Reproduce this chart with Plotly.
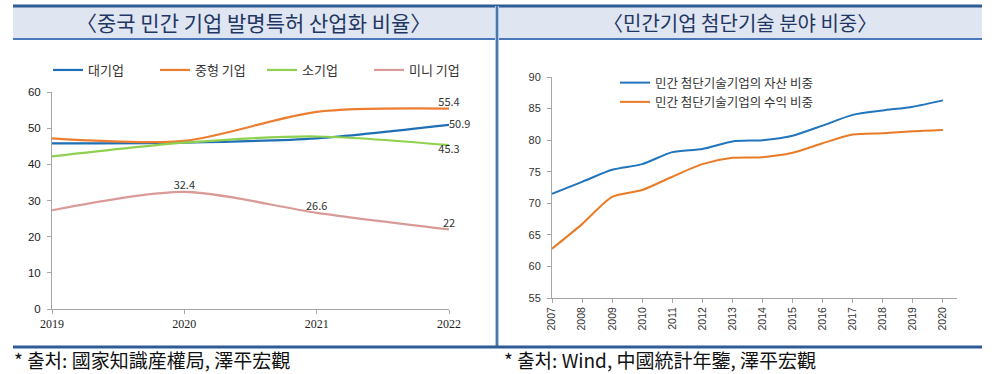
import plotly.graph_objects as go

W, H = 994, 374

# ---------------- data ----------------
years_left = [2019, 2020, 2021, 2022]
large = [45.8, 46.0, 47.2, 50.9]
medium = [47.2, 46.5, 54.5, 55.4]
small = [42.2, 46.0, 47.7, 45.3]
mini = [27.3, 32.4, 26.6, 22.0]
left_names = ["대기업", "중형 기업", "소기업", "미니 기업"]

years_right = list(range(2007, 2021))
asset_share = [71.5, 73.4, 75.3, 76.2, 78.1, 78.6, 79.8, 80.0, 80.7, 82.3, 84.0, 84.7, 85.3, 86.3]
revenue_share = [62.8, 66.7, 71.0, 72.1, 74.2, 76.2, 77.2, 77.3, 78.0, 79.5, 80.9, 81.1, 81.4, 81.6]
right_names = ["민간 첨단기술기업의 자산 비중", "민간 첨단기술기업의 수익 비중"]

left_title = "〈중국 민간 기업 발명특허 산업화 비율〉"
right_title = "〈민간기업 첨단기술 분야 비중〉"
left_source = "* 출처: 國家知識産權局, 澤平宏觀"
right_source = "* 출처: Wind, 中國統計年鑒, 澤平宏觀"


def px(x):
    return x / W


def py(y):
    return 1 - y / H


KR = "Noto Sans CJK KR"
BLUE = "#1f6fb4"
ORANGE = "#ec7d31"
GREEN = "#8fd14f"
PINK = "#d99a98"

fig = go.Figure()


def lbl(vals, idxs):
    return [f"{v:g}" if i in idxs else "" for i, v in enumerate(vals)]


# left chart traces
fig.add_trace(go.Scatter(x=years_left, y=large, name=left_names[0], mode="lines+text",
                         line=dict(color=BLUE, width=2.2, shape="spline", smoothing=0.8),
                         text=lbl(large, [3]), textposition="middle right",
                         textfont=dict(size=11, color="#333"), cliponaxis=False,
                         xaxis="x", yaxis="y", legend="legend"))
fig.add_trace(go.Scatter(x=years_left, y=medium, name=left_names[1], mode="lines+text",
                         line=dict(color=ORANGE, width=2.2, shape="spline", smoothing=0.8),
                         text=lbl(medium, [3]), textposition="top center",
                         textfont=dict(size=11, color="#333"), cliponaxis=False,
                         xaxis="x", yaxis="y", legend="legend"))
fig.add_trace(go.Scatter(x=years_left, y=small, name=left_names[2], mode="lines+text",
                         line=dict(color=GREEN, width=2.2, shape="spline", smoothing=0.8),
                         text=lbl(small, [3]), textposition="bottom center",
                         textfont=dict(size=11, color="#333"), cliponaxis=False,
                         xaxis="x", yaxis="y", legend="legend"))
fig.add_trace(go.Scatter(x=years_left, y=mini, name=left_names[3], mode="lines+text",
                         line=dict(color=PINK, width=2.2, shape="spline", smoothing=0.8),
                         text=lbl(mini, [1, 2, 3]), textposition="top center",
                         textfont=dict(size=11, color="#333"), cliponaxis=False,
                         xaxis="x", yaxis="y", legend="legend"))

# right chart traces
fig.add_trace(go.Scatter(x=years_right, y=asset_share, name=right_names[0], mode="lines",
                         line=dict(color="#2175bd", width=2, shape="spline", smoothing=0.7),
                         xaxis="x2", yaxis="y2", legend="legend2"))
fig.add_trace(go.Scatter(x=years_right, y=revenue_share, name=right_names[1], mode="lines",
                         line=dict(color="#e97b26", width=2, shape="spline", smoothing=0.7),
                         xaxis="x2", yaxis="y2", legend="legend2"))

axis_common = dict(showgrid=False, zeroline=False, showline=True, linecolor="#a6a6a6",
                   linewidth=1, ticks="outside", tickcolor="#a6a6a6", ticklen=4,
                   automargin=False)

fig.update_layout(
    width=W, height=H,
    margin=dict(l=0, r=0, t=0, b=0, pad=0, autoexpand=False),
    paper_bgcolor="white", plot_bgcolor="white",
    font=dict(family=KR, color="#333"),
    xaxis=dict(domain=[px(52), px(449)], range=[2019, 2022], tickvals=years_left,
               tickfont=dict(family="Liberation Serif", size=12, color="#222"),
               anchor="y", **axis_common),
    yaxis=dict(domain=[py(309), py(92)], range=[0, 60], tickvals=[0, 10, 20, 30, 40, 50, 60],
               tickfont=dict(family="Liberation Sans", size=11.5, color="#222"),
               ticklabelstandoff=4, anchor="x", **axis_common),
    xaxis2=dict(domain=[px(552), px(957)], range=[2007, 2020.47], tickvals=years_right,
                tickangle=-90, tickfont=dict(family="Liberation Sans", size=10.5, color="#333"),
                anchor="y2", **axis_common),
    yaxis2=dict(domain=[py(298), py(77)], range=[55, 90], tickvals=[55, 60, 65, 70, 75, 80, 85, 90],
                tickfont=dict(family="Liberation Sans", size=11, color="#333"),
                ticklabelstandoff=4, anchor="x2", **axis_common),
    legend=dict(orientation="h", x=px(48), y=py(55), xanchor="left", yanchor="top",
                entrywidth=62, entrywidthmode="pixels", traceorder="normal",
                font=dict(family=KR, size=13, color="#333"), bgcolor="rgba(0,0,0,0)",
                itemwidth=30, tracegroupgap=0),
    legend2=dict(orientation="v", x=px(615), y=py(68), xanchor="left", yanchor="top",
                 font=dict(family=KR, size=12.5, color="#333"), bgcolor="rgba(0,0,0,0)",
                 itemwidth=30, tracegroupgap=6),
    showlegend=True,
)

shapes = []
# title band
shapes.append(dict(type="rect", xref="paper", yref="paper", x0=px(13), x1=px(982),
                   y0=py(38), y1=py(7), fillcolor="#dfe5f1", line=dict(width=0), layer="below"))
# top thick line
shapes.append(dict(type="line", xref="paper", yref="paper", x0=px(13), x1=px(982),
                   y0=py(6), y1=py(6), line=dict(color="#2e5d96", width=3)))
# line under title
shapes.append(dict(type="line", xref="paper", yref="paper", x0=px(13), x1=px(982),
                   y0=py(39), y1=py(39), line=dict(color="#4a78b8", width=2)))
# vertical divider
shapes.append(dict(type="line", xref="paper", yref="paper", x0=px(497), x1=px(497),
                   y0=py(6), y1=py(347), line=dict(color="#a9c8ea", width=4)))
shapes.append(dict(type="line", xref="paper", yref="paper", x0=px(497), x1=px(497),
                   y0=py(6), y1=py(347), line=dict(color="#2e5d96", width=1.5)))
# bottom line
shapes.append(dict(type="line", xref="paper", yref="paper", x0=px(13), x1=px(982),
                   y0=py(347), y1=py(347), line=dict(color="#2e5d96", width=3)))

annotations = [
    dict(text=left_title, xref="paper", yref="paper", x=px(253), y=py(22),
         xanchor="center", yanchor="middle", showarrow=False,
         font=dict(family=KR, size=21, color="#1f3763")),
    dict(text=right_title, xref="paper", yref="paper", x=px(740), y=py(22),
         xanchor="center", yanchor="middle", showarrow=False,
         font=dict(family=KR, size=20, color="#1f3763")),
    dict(text=left_source, xref="paper", yref="paper", x=px(12), y=py(359),
         xanchor="left", yanchor="middle", showarrow=False,
         font=dict(family=KR, size=19, color="#111")),
    dict(text=right_source, xref="paper", yref="paper", x=px(502), y=py(359),
         xanchor="left", yanchor="middle", showarrow=False,
         font=dict(family=KR, size=19, color="#111")),
]

fig.update_layout(shapes=shapes, annotations=annotations)

fig.write_html("out.html",
               config={"displayModeBar": False},
               post_script="document.body.style.margin='0';document.body.style.overflow='hidden';")
